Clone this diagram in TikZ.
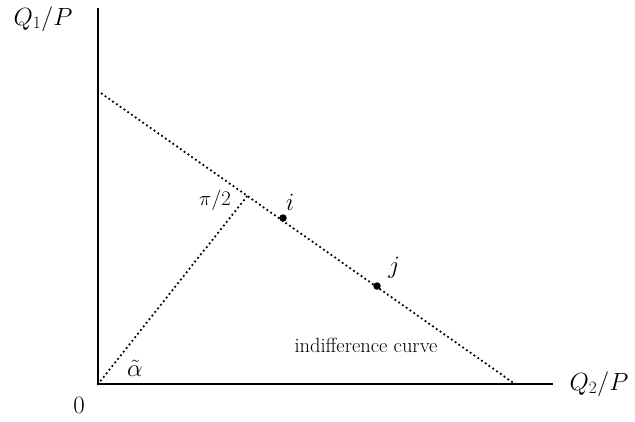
\documentclass[tikz,border=0pt]{standalone}
\begin{document}
\begin{tikzpicture}[x=1pt,y=-1pt,
  axis/.style={line width=1.8pt},
  dotline/.style={line width=2.5pt, line cap=round, dash pattern=on 0pt off 4.6pt},
  pt/.style={circle, fill=black, inner sep=0pt, minimum size=7.5pt},
  lab/.style={inner sep=0pt, font=\fontsize{25}{30}\selectfont},
  small/.style={inner sep=0pt, font=\fontsize{20.5}{24}\selectfont}]
\useasboundingbox (0,0) rectangle (635,421);
\coordinate (O) at (98,384);
\coordinate (ytop) at (98,8);
\coordinate (xend) at (553,384);
\coordinate (A) at (98,91);
\coordinate (B) at (515,384);
\coordinate (F) at (248,195);
\draw[axis] (ytop) -- (O) -- (xend);
\draw[dotline] (A) -- (B);
\draw[dotline] (O) -- (F);
\node[pt] (i) at (283,218) {};
\node[pt] (j) at (377,286) {};
\node[lab] (q1) at (43,19) {$Q_1/P$};
\node[lab] (q2) at (599,384) {$Q_2/P$};
\node[lab] (zero) at (79,405) {$0$};
\node[lab] (alpha) at (135,368) {$\tilde\alpha$};
\node[small] (pi) at (215,200) {$\pi/2$};
\node[lab] (il) at (290,202) {$i$};
\node[lab] (jl) at (394,268) {$j$};
\node[small] (ic) at (366,345) {indifference curve};
\end{tikzpicture}
\end{document}
